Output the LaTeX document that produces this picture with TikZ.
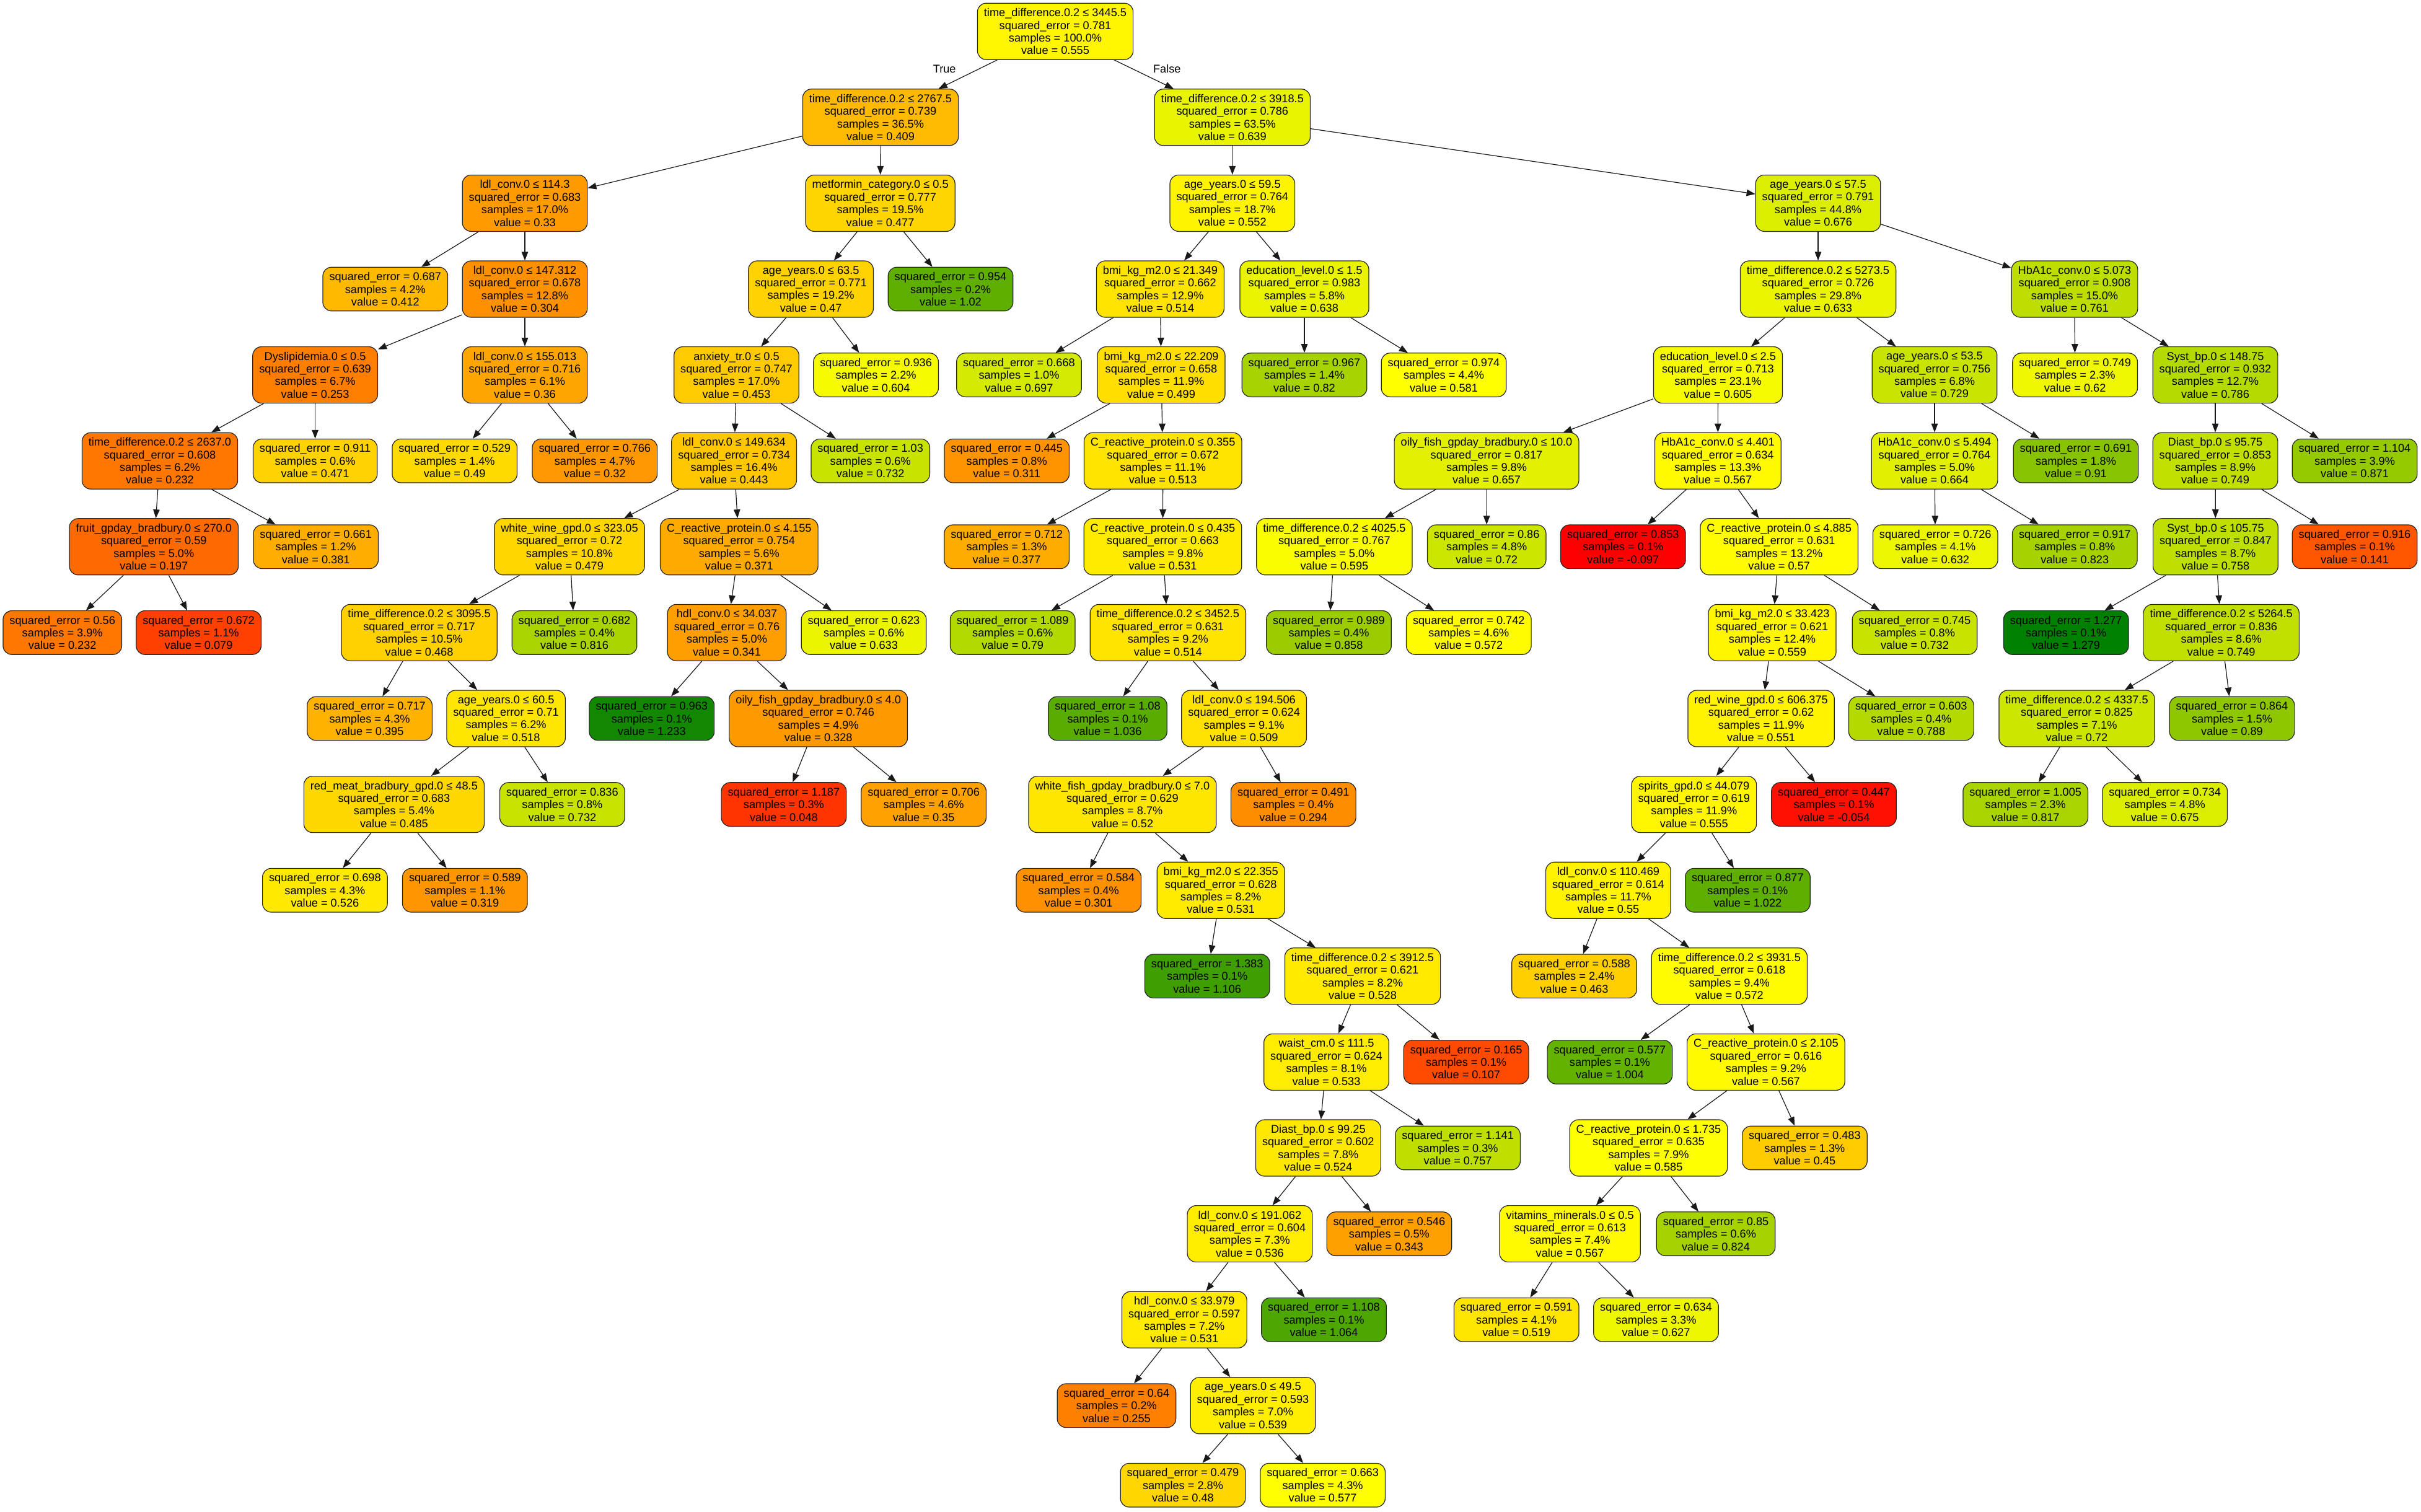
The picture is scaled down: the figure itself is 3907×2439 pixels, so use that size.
\documentclass[tikz,border=0pt]{standalone}
\usepackage{fontspec}
\setmainfont{Liberation Sans}
\usetikzlibrary{arrows.meta}

% colour ramp for the node values: red -> orange -> yellow -> green
\definecolor{tred}{RGB}{255,0,0}
\definecolor{tone}{RGB}{255,165,0}
\definecolor{tyellow}{RGB}{255,255,0}
\definecolor{tgreen}{RGB}{0,128,0}
\newcommand\setvalcolor[1]{%
  \pgfmathsetmacro\tvval{#1}%
  \ifdim\tvval pt<0.36pt\relax
    \pgfmathsetmacro\tvpct{max(0,min(100,(\tvval+0.097)/0.457*100))}%
    \colorlet{valfill}{tone!\tvpct!tred}%
  \else\ifdim\tvval pt<0.58pt\relax
    \pgfmathsetmacro\tvpct{(\tvval-0.36)/0.22*100}%
    \colorlet{valfill}{tyellow!\tvpct!tone}%
  \else
    \pgfmathsetmacro\tvpct{min(100,(\tvval-0.58)/0.699*100)}%
    \colorlet{valfill}{tgreen!\tvpct!tyellow}%
  \fi\fi}

\newcommand\splittext[4]{#1\\squared\_error = #2\\samples = #3\\value = #4}
\newcommand\leaftext[3]{squared\_error = #1\\samples = #2\\value = #3}

\tikzset{
  val/.code={\setvalcolor{#1}\pgfkeysalso{fill=valfill}},
  split/.style={draw=black!85, line width=1.2pt, rounded corners=14pt,
    align=center, inner xsep=10.5pt, inner ysep=0pt, minimum height=91pt,
    font=\fontsize{18.2}{20.4}\selectfont},
  leaf/.style={split, minimum height=70.6pt},
  treelink/.style={line width=1.2pt, draw=black!90,
    -{Triangle[length=14pt,width=10.5pt]}},
  branchlabel/.style={font=\fontsize{18.2}{20.4}\selectfont, inner sep=0pt}
}

\begin{document}
\begin{tikzpicture}[x=1pt,y=-1pt]
\fill[white] (0,0) rectangle (3907,2439);
\useasboundingbox (0,0) rectangle (3907,2439);

% rank 0
\node[split,val=0.555] (n0) at (1703,50.7) {\splittext{time\_difference.0.2 ≤ 3445.5}{0.781}{100.0\%}{0.555}};
% rank 1
\node[split,val=0.409] (n1) at (1421,189.3) {\splittext{time\_difference.0.2 ≤ 2767.5}{0.739}{36.5\%}{0.409}};
\node[split,val=0.639] (n2) at (1988.8,189.3) {\splittext{time\_difference.0.2 ≤ 3918.5}{0.786}{63.5\%}{0.639}};
% rank 2
\node[split,val=0.33] (n3) at (847,327.9) {\splittext{ldl\_conv.0 ≤ 114.3}{0.683}{17.0\%}{0.33}};
\node[split,val=0.477] (n4) at (1420.6,327.9) {\splittext{metformin\_category.0 ≤ 0.5}{0.777}{19.5\%}{0.477}};
\node[split,val=0.552] (n5) at (1988.8,327.9) {\splittext{age\_years.0 ≤ 59.5}{0.764}{18.7\%}{0.552}};
\node[split,val=0.676] (n6) at (2934,327.9) {\splittext{age\_years.0 ≤ 57.5}{0.791}{44.8\%}{0.676}};
% rank 3
\node[leaf,val=0.412] (l1) at (621.8,466.5) {\leaftext{0.687}{4.2\%}{0.412}};
\node[split,val=0.304] (n7) at (847,466.5) {\splittext{ldl\_conv.0 ≤ 147.312}{0.678}{12.8\%}{0.304}};
\node[split,val=0.47] (n8) at (1308.6,466.5) {\splittext{age\_years.0 ≤ 63.5}{0.771}{19.2\%}{0.47}};
\node[leaf,val=1.02] (l2) at (1534,466.5) {\leaftext{0.954}{0.2\%}{1.02}};
\node[split,val=0.514] (n9) at (1872.4,466.5) {\splittext{bmi\_kg\_m2.0 ≤ 21.349}{0.662}{12.9\%}{0.514}};
\node[split,val=0.638] (n10) at (2105,466.5) {\splittext{education\_level.0 ≤ 1.5}{0.983}{5.8\%}{0.638}};
\node[split,val=0.633] (n11) at (2934,466.5) {\splittext{time\_difference.0.2 ≤ 5273.5}{0.726}{29.8\%}{0.633}};
\node[split,val=0.761] (n12) at (3348,466.5) {\splittext{HbA1c\_conv.0 ≤ 5.073}{0.908}{15.0\%}{0.761}};
% rank 4
\node[split,val=0.253] (n13) at (508.6,605.1) {\splittext{Dyslipidemia.0 ≤ 0.5}{0.639}{6.7\%}{0.253}};
\node[split,val=0.36] (n14) at (847,605.1) {\splittext{ldl\_conv.0 ≤ 155.013}{0.716}{6.1\%}{0.36}};
\node[split,val=0.453] (n15) at (1188.5,605.1) {\splittext{anxiety\_tr.0 ≤ 0.5}{0.747}{17.0\%}{0.453}};
\node[leaf,val=0.604] (l3) at (1413.6,605.1) {\leaftext{0.936}{2.2\%}{0.604}};
\node[leaf,val=0.697] (l4) at (1644.5,605.1) {\leaftext{0.668}{1.0\%}{0.697}};
\node[split,val=0.499] (n16) at (1874,605.1) {\splittext{bmi\_kg\_m2.0 ≤ 22.209}{0.658}{11.9\%}{0.499}};
\node[leaf,val=0.82] (l5) at (2105,605.1) {\leaftext{0.967}{1.4\%}{0.82}};
\node[leaf,val=0.581] (l6) at (2330,605.1) {\leaftext{0.974}{4.4\%}{0.581}};
\node[split,val=0.605] (n17) at (2772.4,605.1) {\splittext{education\_level.0 ≤ 2.5}{0.713}{23.1\%}{0.605}};
\node[split,val=0.729] (n18) at (3122,605.1) {\splittext{age\_years.0 ≤ 53.5}{0.756}{6.8\%}{0.729}};
\node[leaf,val=0.62] (l7) at (3348.6,605.1) {\leaftext{0.749}{2.3\%}{0.62}};
\node[split,val=0.786] (n19) at (3575,605.1) {\splittext{Syst\_bp.0 ≤ 148.75}{0.932}{12.7\%}{0.786}};
% rank 5
\node[split,val=0.232] (n20) at (258,743.7) {\splittext{time\_difference.0.2 ≤ 2637.0}{0.608}{6.2\%}{0.232}};
\node[leaf,val=0.471] (l8) at (508.6,743.7) {\leaftext{0.911}{0.6\%}{0.471}};
\node[leaf,val=0.49] (l9) at (733.7,743.7) {\leaftext{0.529}{1.4\%}{0.49}};
\node[leaf,val=0.32] (l10) at (959.8,743.7) {\leaftext{0.766}{4.7\%}{0.32}};
\node[split,val=0.443] (n21) at (1184.6,743.7) {\splittext{ldl\_conv.0 ≤ 149.634}{0.734}{16.4\%}{0.443}};
\node[leaf,val=0.732] (l11) at (1404.7,743.7) {\leaftext{1.03}{0.6\%}{0.732}};
\node[leaf,val=0.311] (l12) at (1624.7,743.7) {\leaftext{0.445}{0.8\%}{0.311}};
\node[split,val=0.513] (n22) at (1876.7,743.7) {\splittext{C\_reactive\_protein.0 ≤ 0.355}{0.672}{11.1\%}{0.513}};
\node[split,val=0.657] (n23) at (2399,743.7) {\splittext{oily\_fish\_gpday\_bradbury.0 ≤ 10.0}{0.817}{9.8\%}{0.657}};
\node[split,val=0.567] (n24) at (2772.3,743.7) {\splittext{HbA1c\_conv.0 ≤ 4.401}{0.634}{13.3\%}{0.567}};
\node[split,val=0.664] (n25) at (3122,743.7) {\splittext{HbA1c\_conv.0 ≤ 5.494}{0.764}{5.0\%}{0.664}};
\node[leaf,val=0.91] (l13) at (3350,743.7) {\leaftext{0.691}{1.8\%}{0.91}};
\node[split,val=0.749] (n26) at (3575,743.7) {\splittext{Diast\_bp.0 ≤ 95.75}{0.853}{8.9\%}{0.749}};
\node[leaf,val=0.871] (l14) at (3800,743.7) {\leaftext{1.104}{3.9\%}{0.871}};
% rank 6
\node[split,val=0.197] (n27) at (248.3,882.3) {\splittext{fruit\_gpday\_bradbury.0 ≤ 270.0}{0.59}{5.0\%}{0.197}};
\node[leaf,val=0.381] (l15) at (509.7,882.3) {\leaftext{0.661}{1.2\%}{0.381}};
\node[split,val=0.479] (n28) at (919,882.3) {\splittext{white\_wine\_gpd.0 ≤ 323.05}{0.72}{10.8\%}{0.479}};
\node[split,val=0.371] (n29) at (1192.8,882.3) {\splittext{C\_reactive\_protein.0 ≤ 4.155}{0.754}{5.6\%}{0.371}};
\node[leaf,val=0.377] (l16) at (1624.6,882.3) {\leaftext{0.712}{1.3\%}{0.377}};
\node[split,val=0.531] (n30) at (1876.5,882.3) {\splittext{C\_reactive\_protein.0 ≤ 0.435}{0.663}{9.8\%}{0.531}};
\node[split,val=0.595] (n31) at (2153.4,882.3) {\splittext{time\_difference.0.2 ≤ 4025.5}{0.767}{5.0\%}{0.595}};
\node[leaf,val=0.72] (l17) at (2399.2,882.3) {\leaftext{0.86}{4.8\%}{0.72}};
\node[leaf,val=-0.097] (l18) at (2619.3,882.3) {\leaftext{0.853}{0.1\%}{-0.097}};
\node[split,val=0.57] (n32) at (2871.2,882.3) {\splittext{C\_reactive\_protein.0 ≤ 4.885}{0.631}{13.2\%}{0.57}};
\node[leaf,val=0.632] (l19) at (3123.2,882.3) {\leaftext{0.726}{4.1\%}{0.632}};
\node[leaf,val=0.823] (l20) at (3348.3,882.3) {\leaftext{0.917}{0.8\%}{0.823}};
\node[split,val=0.758] (n33) at (3575.4,882.3) {\splittext{Syst\_bp.0 ≤ 105.75}{0.847}{8.7\%}{0.758}};
\node[leaf,val=0.141] (l21) at (3800,882.3) {\leaftext{0.916}{0.1\%}{0.141}};
% rank 7
\node[leaf,val=0.232] (l22) at (100.7,1020.9) {\leaftext{0.56}{3.9\%}{0.232}};
\node[leaf,val=0.079] (l23) at (320.6,1020.9) {\leaftext{0.672}{1.1\%}{0.079}};
\node[split,val=0.468] (n34) at (676.6,1020.9) {\splittext{time\_difference.0.2 ≤ 3095.5}{0.717}{10.5\%}{0.468}};
\node[leaf,val=0.816] (l24) at (927,1020.9) {\leaftext{0.682}{0.4\%}{0.816}};
\node[split,val=0.341] (n35) at (1173,1020.9) {\splittext{hdl\_conv.0 ≤ 34.037}{0.76}{5.0\%}{0.341}};
\node[leaf,val=0.633] (l25) at (1394,1020.9) {\leaftext{0.623}{0.6\%}{0.633}};
\node[leaf,val=0.79] (l26) at (1634.2,1020.9) {\leaftext{1.089}{0.6\%}{0.79}};
\node[split,val=0.514] (n36) at (1884.8,1020.9) {\splittext{time\_difference.0.2 ≤ 3452.5}{0.631}{9.2\%}{0.514}};
\node[leaf,val=0.858] (l27) at (2144.5,1020.9) {\leaftext{0.989}{0.4\%}{0.858}};
\node[leaf,val=0.572] (l28) at (2370.3,1020.9) {\leaftext{0.742}{4.6\%}{0.572}};
\node[split,val=0.559] (n37) at (2860,1020.9) {\splittext{bmi\_kg\_m2.0 ≤ 33.423}{0.621}{12.4\%}{0.559}};
\node[leaf,val=0.732] (l29) at (3090,1020.9) {\leaftext{0.745}{0.8\%}{0.732}};
\node[leaf,val=1.279] (l30) at (3334.2,1020.9) {\leaftext{1.277}{0.1\%}{1.279}};
\node[split,val=0.749] (n38) at (3584.7,1020.9) {\splittext{time\_difference.0.2 ≤ 5264.5}{0.836}{8.6\%}{0.749}};
% rank 8
\node[leaf,val=0.395] (l31) at (596.6,1159.5) {\leaftext{0.717}{4.3\%}{0.395}};
\node[split,val=0.518] (n39) at (816.6,1159.5) {\splittext{age\_years.0 ≤ 60.5}{0.71}{6.2\%}{0.518}};
\node[leaf,val=1.233] (l32) at (1051.8,1159.5) {\leaftext{0.963}{0.1\%}{1.233}};
\node[split,val=0.328] (n40) at (1320.7,1159.5) {\splittext{oily\_fish\_gpday\_bradbury.0 ≤ 4.0}{0.746}{4.9\%}{0.328}};
\node[leaf,val=1.036] (l33) at (1787.5,1159.5) {\leaftext{1.08}{0.1\%}{1.036}};
\node[split,val=0.509] (n41) at (2007.6,1159.5) {\splittext{ldl\_conv.0 ≤ 194.506}{0.624}{9.1\%}{0.509}};
\node[split,val=0.551] (n42) at (2842.1,1159.5) {\splittext{red\_wine\_gpd.0 ≤ 606.375}{0.62}{11.9\%}{0.551}};
\node[leaf,val=0.788] (l34) at (3084.3,1159.5) {\leaftext{0.603}{0.4\%}{0.788}};
\node[split,val=0.72] (n43) at (3351.5,1159.5) {\splittext{time\_difference.0.2 ≤ 4337.5}{0.825}{7.1\%}{0.72}};
\node[leaf,val=0.89] (l35) at (3602,1159.5) {\leaftext{0.864}{1.5\%}{0.89}};
% rank 9
\node[split,val=0.485] (n44) at (635.9,1298.1) {\splittext{red\_meat\_bradbury\_gpd.0 ≤ 48.5}{0.683}{5.4\%}{0.485}};
\node[leaf,val=0.732] (l36) at (907.4,1298.1) {\leaftext{0.836}{0.8\%}{0.732}};
\node[leaf,val=0.048] (l37) at (1264.9,1298.1) {\leaftext{1.187}{0.3\%}{0.048}};
\node[leaf,val=0.35] (l38) at (1490.6,1298.1) {\leaftext{0.706}{4.6\%}{0.35}};
\node[split,val=0.52] (n45) at (1811.4,1298.1) {\splittext{white\_fish\_gpday\_bradbury.0 ≤ 7.0}{0.629}{8.7\%}{0.52}};
\node[leaf,val=0.294] (l39) at (2087.3,1298.1) {\leaftext{0.491}{0.4\%}{0.294}};
\node[split,val=0.555] (n46) at (2733.8,1298.1) {\splittext{spirits\_gpd.0 ≤ 44.079}{0.619}{11.9\%}{0.555}};
\node[leaf,val=-0.054] (l40) at (2959.5,1298.1) {\leaftext{0.447}{0.1\%}{-0.054}};
\node[leaf,val=0.817] (l41) at (3268.7,1298.1) {\leaftext{1.005}{2.3\%}{0.817}};
\node[leaf,val=0.675] (l42) at (3493.7,1298.1) {\leaftext{0.734}{4.8\%}{0.675}};
% rank 10
\node[leaf,val=0.526] (l43) at (524.4,1436.7) {\leaftext{0.698}{4.3\%}{0.526}};
\node[leaf,val=0.319] (l44) at (750.3,1436.7) {\leaftext{0.589}{1.1\%}{0.319}};
\node[leaf,val=0.301] (l45) at (1740.7,1436.7) {\leaftext{0.584}{0.4\%}{0.301}};
\node[split,val=0.531] (n47) at (1970.2,1436.7) {\splittext{bmi\_kg\_m2.0 ≤ 22.355}{0.628}{8.2\%}{0.531}};
\node[split,val=0.55] (n48) at (2595.4,1436.7) {\splittext{ldl\_conv.0 ≤ 110.469}{0.614}{11.7\%}{0.55}};
\node[leaf,val=1.022] (l46) at (2820.4,1436.7) {\leaftext{0.877}{0.1\%}{1.022}};
% rank 11
\node[leaf,val=1.106] (l47) at (1948.2,1575.3) {\leaftext{1.383}{0.1\%}{1.106}};
\node[split,val=0.528] (n49) at (2199,1575.3) {\splittext{time\_difference.0.2 ≤ 3912.5}{0.621}{8.2\%}{0.528}};
\node[leaf,val=0.463] (l48) at (2540.5,1575.3) {\leaftext{0.588}{2.4\%}{0.463}};
\node[split,val=0.572] (n50) at (2790.9,1575.3) {\splittext{time\_difference.0.2 ≤ 3931.5}{0.618}{9.4\%}{0.572}};
% rank 12
\node[split,val=0.533] (n51) at (2140.5,1713.9) {\splittext{waist\_cm.0 ≤ 111.5}{0.624}{8.1\%}{0.533}};
\node[leaf,val=0.107] (l49) at (2366.1,1713.9) {\leaftext{0.165}{0.1\%}{0.107}};
\node[leaf,val=1.004] (l50) at (2597.9,1713.9) {\leaftext{0.577}{0.1\%}{1.004}};
\node[split,val=0.567] (n52) at (2849.9,1713.9) {\splittext{C\_reactive\_protein.0 ≤ 2.105}{0.616}{9.2\%}{0.567}};
% rank 13
\node[split,val=0.524] (n53) at (2127.3,1852.5) {\splittext{Diast\_bp.0 ≤ 99.25}{0.602}{7.8\%}{0.524}};
\node[leaf,val=0.757] (l51) at (2352.6,1852.5) {\leaftext{1.141}{0.3\%}{0.757}};
\node[split,val=0.585] (n54) at (2660.5,1852.5) {\splittext{C\_reactive\_protein.0 ≤ 1.735}{0.635}{7.9\%}{0.585}};
\node[leaf,val=0.45] (l52) at (2912.4,1852.5) {\leaftext{0.483}{1.3\%}{0.45}};
% rank 14
\node[split,val=0.536] (n55) at (2016.9,1991.1) {\splittext{ldl\_conv.0 ≤ 191.062}{0.604}{7.3\%}{0.536}};
\node[leaf,val=0.343] (l53) at (2241.9,1991.1) {\leaftext{0.546}{0.5\%}{0.343}};
\node[split,val=0.567] (n56) at (2533.6,1991.1) {\splittext{vitamins\_minerals.0 ≤ 0.5}{0.613}{7.4\%}{0.567}};
\node[leaf,val=0.824] (l54) at (2769,1991.1) {\leaftext{0.85}{0.6\%}{0.824}};
% rank 15
\node[split,val=0.531] (n57) at (1911.3,2129.7) {\splittext{hdl\_conv.0 ≤ 33.979}{0.597}{7.2\%}{0.531}};
\node[leaf,val=1.064] (l55) at (2136.5,2129.7) {\leaftext{1.108}{0.1\%}{1.064}};
\node[leaf,val=0.519] (l56) at (2447.2,2129.7) {\leaftext{0.591}{4.1\%}{0.519}};
\node[leaf,val=0.627] (l57) at (2672.5,2129.7) {\leaftext{0.634}{3.3\%}{0.627}};
% rank 16
\node[leaf,val=0.255] (l58) at (1801.9,2268.3) {\leaftext{0.64}{0.2\%}{0.255}};
\node[split,val=0.539] (n58) at (2022,2268.3) {\splittext{age\_years.0 ≤ 49.5}{0.593}{7.0\%}{0.539}};
% rank 17
\node[leaf,val=0.48] (l59) at (1909,2396.7) {\leaftext{0.479}{2.8\%}{0.48}};
\node[leaf,val=0.577] (l60) at (2134.6,2396.7) {\leaftext{0.663}{4.3\%}{0.577}};

% branch labels at the root
\node[branchlabel] (tlab) at (1524.2,110.9) {True};
\node[branchlabel] (flab) at (1883.3,110.9) {False};

% parent -> child connectors
\foreach \a/\b in {n0/n1,n0/n2,n1/n3,n1/n4,n2/n5,n2/n6,n3/l1,n3/n7,n4/n8,n4/l2,
  n5/n9,n5/n10,n6/n11,n6/n12,n7/n13,n7/n14,n8/n15,n8/l3,n9/l4,n9/n16,
  n10/l5,n10/l6,n11/n17,n11/n18,n12/l7,n12/n19,n13/n20,n13/l8,n14/l9,n14/l10,
  n15/n21,n15/l11,n16/l12,n16/n22,n17/n23,n17/n24,n18/n25,n18/l13,n19/n26,n19/l14,
  n20/n27,n20/l15,n21/n28,n21/n29,n22/l16,n22/n30,n23/n31,n23/l17,n24/l18,n24/n32,
  n25/l19,n25/l20,n26/n33,n26/l21,n27/l22,n27/l23,n28/n34,n28/l24,n29/n35,n29/l25,
  n30/l26,n30/n36,n31/l27,n31/l28,n32/n37,n32/l29,n33/l30,n33/n38,n34/l31,n34/n39,
  n35/l32,n35/n40,n36/l33,n36/n41,n37/n42,n37/l34,n38/n43,n38/l35,n39/n44,n39/l36,
  n40/l37,n40/l38,n41/n45,n41/l39,n42/n46,n42/l40,n43/l41,n43/l42,n44/l43,n44/l44,
  n45/l45,n45/n47,n46/n48,n46/l46,n47/l47,n47/n49,n48/l48,n48/n50,n49/n51,n49/l49,
  n50/l50,n50/n52,n51/n53,n51/l51,n52/n54,n52/l52,n53/n55,n53/l53,n54/n56,n54/l54,
  n55/n57,n55/l55,n56/l56,n56/l57,n57/l58,n57/n58,n58/l59,n58/l60}
  \draw[treelink] (\a) -- (\b);
\end{tikzpicture}
\end{document}
